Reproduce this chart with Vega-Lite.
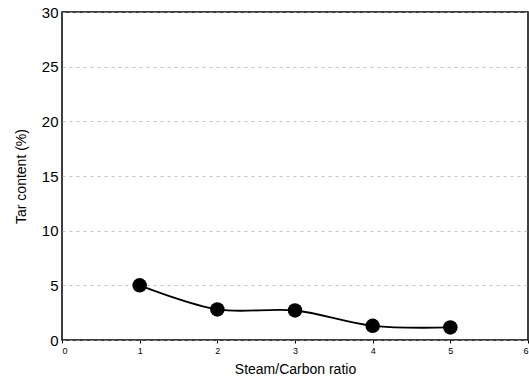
{
  "$schema": "https://vega.github.io/schema/vega-lite/v6.json",
  "width": 466,
  "height": 328,
  "autosize": {"type": "none"},
  "padding": {"left": 62, "top": 12, "right": 1, "bottom": 45},
  "background": "white",
  "config": {
    "font": "Liberation Sans",
    "view": {"stroke": "black", "strokeWidth": 1.5},
    "axis": {"domain": false, "labelColor": "black", "titleColor": "black", "titleFontWeight": "normal"}
  },
  "data": {"values": [
    {"ratio": 1, "tar": 5.0},
    {"ratio": 2, "tar": 2.8},
    {"ratio": 3, "tar": 2.7},
    {"ratio": 4, "tar": 1.3},
    {"ratio": 5, "tar": 1.15}
  ]},
  "encoding": {
    "x": {
      "field": "ratio", "type": "quantitative",
      "scale": {"domain": [0, 6], "nice": false},
      "axis": {"values": [0,1,2,3,4,5,6], "grid": false, "ticks": true, "tickSize": 3, "tickOffset": 0, "tickColor": "black",
        "labelFontSize": 9, "labelPadding": 3, "title": "Steam/Carbon ratio", "titleFontSize": 14, "titlePadding": 7}
    },
    "y": {
      "field": "tar", "type": "quantitative",
      "scale": {"domain": [0, 30], "nice": false},
      "axis": {"values": [0,5,10,15,20,25,30], "grid": true, "gridDash": [3,4], "gridColor": "#aaaaaa", "gridWidth": 0.7,
        "ticks": false, "labelFontSize": 15, "labelPadding": 4, "title": "Tar content (%)", "titleFontSize": 14, "titlePadding": 13}
    }
  },
  "layer": [
    {"mark": {"type": "line", "interpolate": "catmull-rom", "color": "black", "strokeWidth": 1.8}},
    {"mark": {"type": "point", "filled": true, "color": "black", "opacity": 1, "size": 210}}
  ]
}
